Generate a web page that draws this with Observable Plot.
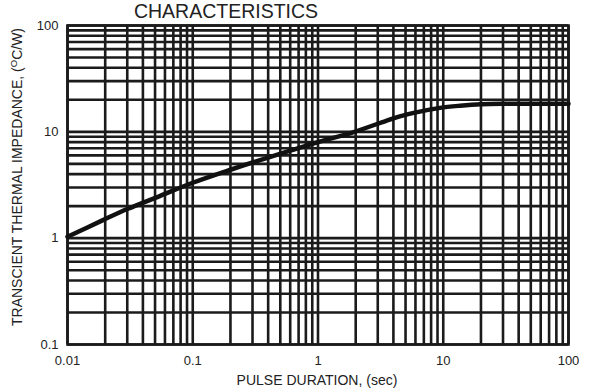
<!DOCTYPE html>
<html>
<head>
<meta charset="utf-8">
<script src="https://cdn.jsdelivr.net/npm/d3@7"></script>
<script src="https://cdn.jsdelivr.net/npm/@observablehq/plot@0.6"></script>
<style>
  html, body { margin: 0; padding: 0; background: #fff; }
  #chart { width: 592px; height: 392px; overflow: hidden; }
</style>
</head>
<body>
<div id="chart"></div>
<script>
// ---- data ----
const titleText = "CHARACTERISTICS";
const xLabelText = "PULSE DURATION, (sec)";
const yLabelMain = "TRANSCIENT THERMAL IMPEDANCE, (";
const yLabelSup = "O";
const yLabelEnd = "C/W)";

const pulseDuration = [0.01, 0.019, 0.03, 0.055, 0.1, 0.2, 0.35, 0.6, 1, 1.9, 3.5, 4.5, 6.5, 9.4, 13.6, 20, 30, 50, 100];
const impedance     = [1.03, 1.47, 1.88, 2.5, 3.32, 4.4, 5.45, 6.65, 8.0, 9.9, 12.7, 14.0, 15.5, 16.8, 17.6, 18.2, 18.4, 18.4, 18.4];

const xTicks = [0.01, 0.1, 1, 10, 100];
const xTickLabels = ["0.01", "0.1", "1", "10", "100"];
const yTicks = [0.1, 1, 10, 100];
const yTickLabels = ["0.1", "1", "10", "100"];

const decadeMultipliers = [1, 2, 3, 4, 5, 6, 7, 8, 9];
const xDecades = [0.01, 0.1, 1, 10];
const yDecades = [0.1, 1, 10];

// ---- build ----
const xGrid = xDecades.flatMap(d => decadeMultipliers.map(m => +(d * m).toPrecision(6))).concat([100]);
const yGrid = yDecades.flatMap(d => decadeMultipliers.map(m => +(d * m).toPrecision(6))).concat([100]);
const curve = pulseDuration.map((x, i) => ({x, y: impedance[i]}));

const ink = "#1b1b1b";

const chart = Plot.plot({
  width: 592,
  height: 392,
  marginLeft: 67,
  marginRight: 24,
  marginTop: 25,
  marginBottom: 48,
  style: {fontFamily: "'Liberation Sans', Arial, sans-serif", fontSize: "13px", color: "#222", background: "#fff"},
  x: {type: "log", domain: [0.01, 100]},
  y: {type: "log", domain: [0.1, 100]},
  marks: [
    Plot.ruleX(xGrid, {stroke: ink, strokeWidth: 2.6}),
    Plot.ruleY(yGrid, {stroke: ink, strokeWidth: 2.6}),
    Plot.frame({stroke: ink, strokeWidth: 2.6}),
    Plot.line(curve, {x: "x", y: "y", stroke: "#111", strokeWidth: 4.5, curve: "catmull-rom"}),
    Plot.axisX(xTicks, {
      tickSize: 0, tickPadding: 11,
      tickFormat: d => xTickLabels[xTicks.indexOf(d)],
      label: null
    }),
    Plot.axisY(yTicks, {
      tickSize: 0, tickPadding: 9,
      tickFormat: d => yTickLabels[yTicks.indexOf(d)],
      label: null
    })
  ]
});

const svg = d3.select(chart);
svg.append("text")
  .attr("x", 226).attr("y", 18)
  .attr("text-anchor", "middle")
  .attr("font-size", 19.5)
  .attr("fill", "#222")
  .text(titleText);

svg.append("text")
  .attr("x", 317).attr("y", 385)
  .attr("text-anchor", "middle")
  .attr("font-size", 14)
  .attr("fill", "#222")
  .text(xLabelText);

const yl = svg.append("text")
  .attr("transform", "translate(22,177) rotate(-90)")
  .attr("text-anchor", "middle")
  .attr("font-size", 14)
  .attr("fill", "#222");
yl.append("tspan").text(yLabelMain);
yl.append("tspan").attr("font-size", 9.5).attr("dy", -5).text(yLabelSup);
yl.append("tspan").attr("dy", 5).text(yLabelEnd);

document.getElementById("chart").appendChild(chart);
</script>
</body>
</html>
